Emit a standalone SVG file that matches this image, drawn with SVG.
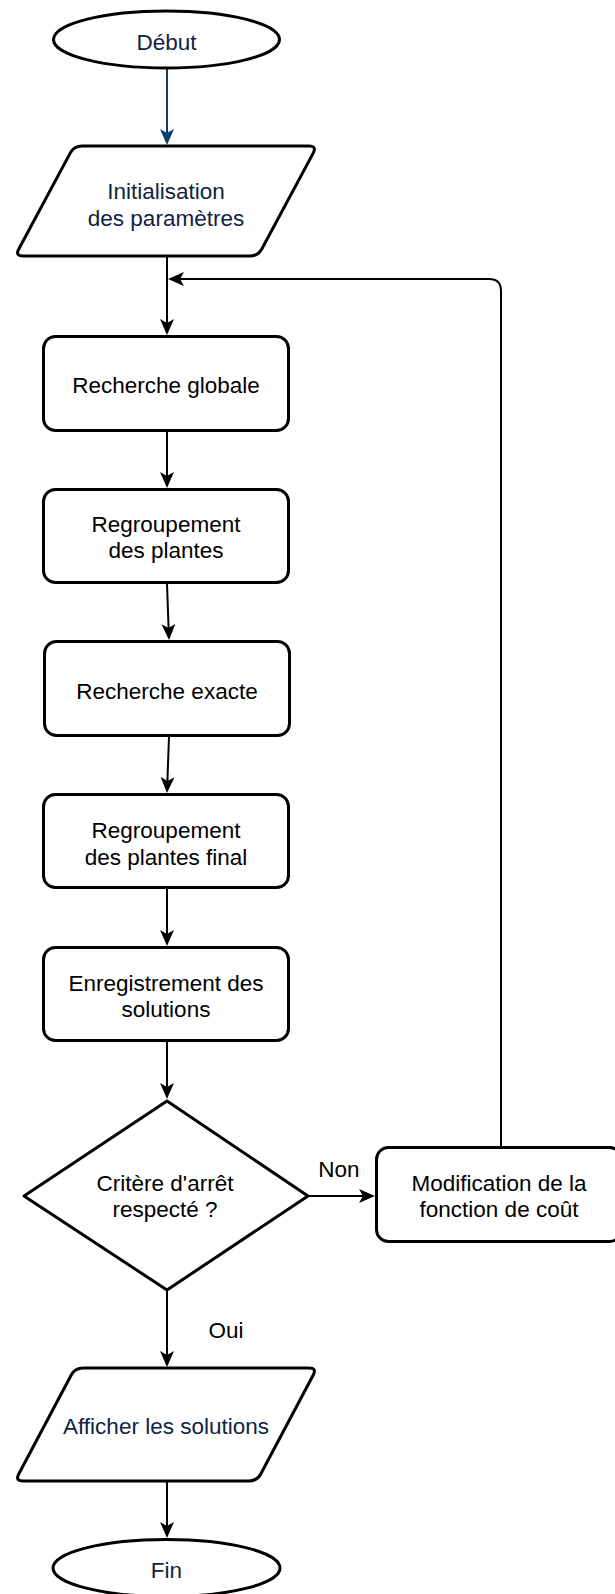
<svg xmlns="http://www.w3.org/2000/svg" width="615" height="1594" viewBox="0 0 615 1594">
  <style>
    .shape { fill: #ffffff; stroke: #000000; stroke-width: 3; stroke-linejoin: round; }
    .edge { fill: none; stroke: #000000; stroke-width: 2; marker-end: url(#arrow); }
    .edge-blue { fill: none; stroke: #0d3c6e; stroke-width: 2; marker-end: url(#arrow-blue); }
    text { font-family: "Liberation Sans", Arial, Helvetica, sans-serif; font-size: 22.5px; text-anchor: middle; fill: #000000; }
    .io { fill: #0f2442; }
    .lbl { text-anchor: middle; }
  </style>
  <defs>
    <marker id="arrow" viewBox="0 0 16 14" refX="4" refY="7" markerWidth="16" markerHeight="14" markerUnits="userSpaceOnUse" orient="auto">
      <path d="M16 7 L0 0 L4 7 L0 14 Z" fill="#000000"/>
    </marker>
    <marker id="arrow-blue" viewBox="0 0 16 14" refX="4" refY="7" markerWidth="16" markerHeight="14" markerUnits="userSpaceOnUse" orient="auto">
      <path d="M16 7 L0 0 L4 7 L0 14 Z" fill="#0d3c6e"/>
    </marker>
  </defs>
  <rect width="615" height="1594" fill="#ffffff"/>

  <!-- connectors -->
  <g id="edges">
    <path class="edge-blue" d="M167 69 V133"/>
    <path class="edge" d="M167 257 V323"/>
    <path class="edge" d="M167 432 V476"/>
    <path class="edge" d="M167 584 L168.6 628"/>
    <path class="edge" d="M169 737 L167.4 781"/>
    <path class="edge" d="M167 889 V934"/>
    <path class="edge" d="M167 1042 V1087"/>
    <path class="edge" d="M309 1196 H363"/>
    <path class="edge" d="M501 1146 V291 Q501 279 489 279 H180"/>
    <path class="edge" d="M167 1291 V1355"/>
    <path class="edge" d="M167 1482 V1526"/>
    <text class="lbl" x="339" y="1177">Non</text>
    <text class="lbl" x="226" y="1338">Oui</text>
  </g>

  <!-- nodes -->
  <g id="start">
    <ellipse class="shape" cx="166.5" cy="39.5" rx="113" ry="28.5"/>
    <text class="io" x="166.5" y="49.5">Début</text>
  </g>

  <g id="init">
    <path class="shape" d="M82 146 H309 Q317 146 313.2 153.1 L261.8 249 Q258 256 250 256 H23 Q15 256 18.8 249 L70.2 153.1 Q74 146 82 146 Z"/>
    <text class="io" x="166" y="199">Initialisation</text>
    <text class="io" x="166" y="226">des paramètres</text>
  </g>

  <g id="global-search">
    <rect class="shape" x="43.5" y="336.5" width="245" height="94" rx="12"/>
    <text x="166" y="393">Recherche globale</text>
  </g>

  <g id="grouping">
    <rect class="shape" x="43.5" y="489.5" width="245" height="93" rx="12"/>
    <text x="166" y="532">Regroupement</text>
    <text x="166" y="558">des plantes</text>
  </g>

  <g id="exact-search">
    <rect class="shape" x="44.5" y="641.5" width="245" height="94" rx="12"/>
    <text x="167" y="699">Recherche exacte</text>
  </g>

  <g id="final-grouping">
    <rect class="shape" x="43.5" y="794.5" width="245" height="93" rx="12"/>
    <text x="166" y="838">Regroupement</text>
    <text x="166" y="865">des plantes final</text>
  </g>

  <g id="save">
    <rect class="shape" x="43.5" y="947.5" width="245" height="93" rx="12"/>
    <text x="166" y="991">Enregistrement des</text>
    <text x="166" y="1017">solutions</text>
  </g>

  <g id="stop-check">
    <polygon class="shape" points="167,1101 308,1196 167,1290 24,1196" stroke-linejoin="miter"/>
    <text x="165" y="1191">Critère d'arrêt</text>
    <text x="165" y="1217">respecté ?</text>
  </g>

  <g id="cost-update">
    <rect class="shape" x="376.5" y="1147.5" width="245" height="94" rx="12"/>
    <text x="499" y="1191">Modification de la</text>
    <text x="499" y="1217">fonction de coût</text>
  </g>

  <g id="show">
    <path class="shape" d="M83 1368 H309 Q317 1368 313.25 1375.07 L260.75 1473.93 Q257 1481 249 1481 H23 Q15 1481 18.75 1473.93 L71.25 1375.07 Q75 1368 83 1368 Z"/>
    <text class="io" x="166" y="1434">Afficher les solutions</text>
  </g>

  <g id="end">
    <ellipse class="shape" cx="166.5" cy="1568" rx="113.5" ry="28.5"/>
    <text class="io" x="166.5" y="1578">Fin</text>
  </g>
</svg>
